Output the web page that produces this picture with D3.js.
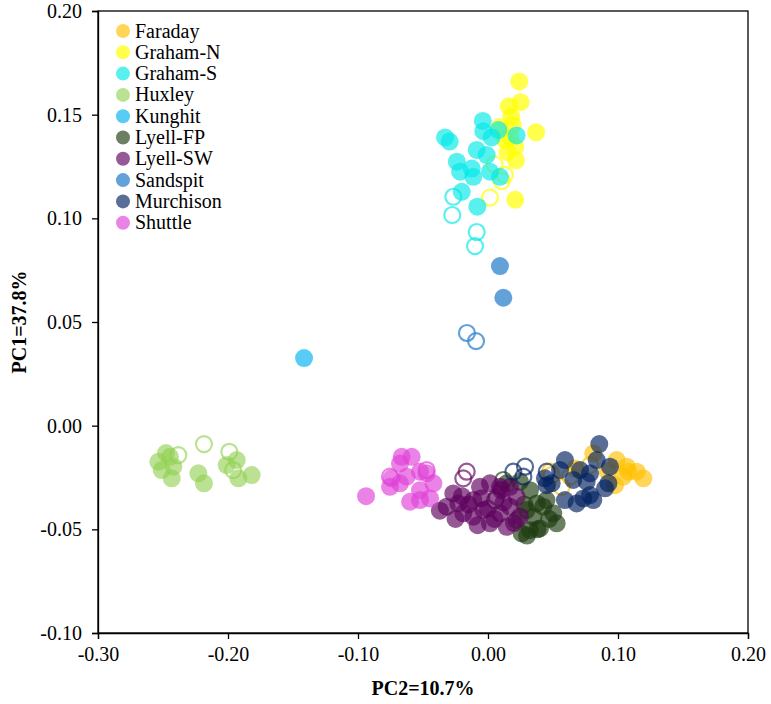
<!DOCTYPE html>
<html><head><meta charset="utf-8">
<script src="https://cdn.jsdelivr.net/npm/d3@7"></script>
<style>body{margin:0;background:#fff;} svg{display:block;}</style>
</head><body>
<svg id="c" width="771" height="704"></svg>
<script>
const seriesNames = ["Faraday","Graham-N","Graham-S","Huxley","Kunghit","Lyell-FP","Lyell-SW","Sandspit","Murchison","Shuttle"];
const seriesColors = ["#FFC000","#FFFF00","#00E8E8","#92D050","#00B0F0","#1C3A0E","#5E005E","#3C8AD0","#002060","#E040D8"];
const seriesAlpha = [0.65,0.7,0.65,0.62,0.65,0.65,0.65,0.8,0.65,0.65];
const xTicks = [-0.30,-0.20,-0.10,0.00,0.10,0.20];
const yTicks = [-0.10,-0.05,0.00,0.05,0.10,0.15,0.20];

// [PC2, PC1] filled points and hollow points per series
const faradayFilled = [[0.099,-0.0166],[0.1067,-0.0198],[0.1144,-0.0222],[0.1195,-0.0254],[0.108,-0.0222],[0.0977,-0.0287],[0.081,-0.0134],[0.1041,-0.0246],[0.0669,-0.0206],[0.092,-0.022]];
const faradayHollow = [[0.049,-0.0238],[0.0631,-0.0246],[0.0567,-0.0295],[0.0785,-0.019],[0.0477,-0.0222]];
const grahamNFilled = [[0.024,0.166],[0.025,0.156],[0.016,0.154],[0.018,0.149],[0.037,0.1415],[0.021,0.1345],[0.0215,0.128],[0.021,0.109],[0.009,0.144],[0.017,0.139],[0.013,0.138],[0.019,0.145],[0.015,0.132]];
const grahamNHollow = [[0.005,0.126],[0.0105,0.118],[0.0015,0.110],[0.013,0.121]];
const grahamSFilled = [[-0.004,0.147],[-0.033,0.139],[-0.0295,0.137],[-0.0036,0.142],[0.0028,0.139],[0.008,0.1426],[0.022,0.140],[-0.0087,0.133],[-0.024,0.1273],[-0.0215,0.1225],[-0.0125,0.124],[-0.0113,0.120],[-0.001,0.1305],[0.0015,0.1225],[0.0092,0.120],[-0.0202,0.1128],[-0.0082,0.1056]];
const grahamSHollow = [[-0.0267,0.1104],[-0.0275,0.1016],[-0.0087,0.0934],[-0.010,0.0866]];
const huxleyFilled = [[-0.2536,-0.0174],[-0.251,-0.0214],[-0.2446,-0.015],[-0.242,-0.0198],[-0.2433,-0.0254],[-0.2477,-0.0132],[-0.2228,-0.023],[-0.2185,-0.0278],[-0.201,-0.019],[-0.1933,-0.0166],[-0.192,-0.0254],[-0.1818,-0.0238]];
const huxleyHollow = [[-0.2382,-0.0142],[-0.2185,-0.0089],[-0.199,-0.0126],[-0.196,-0.0214]];
const kunghitFilled = [[-0.1415,0.0326]];
const kunghitHollow = [];
const lyellFPFilled = [[0.0323,-0.0311],[0.0375,-0.0375],[0.0425,-0.0391],[0.0298,-0.0407],[0.0323,-0.0504],[0.04,-0.0496],[0.0502,-0.0423],[0.0528,-0.0471],[0.0259,-0.052],[0.0221,-0.0455],[0.0144,-0.0278],[0.0246,-0.027],[0.045,-0.0359],[0.035,-0.044],[0.028,-0.038],[0.038,-0.05],[0.047,-0.045],[0.03,-0.053]];
const lyellFPHollow = [[0.0054,-0.0359],[0.0118,-0.0262]];
const lyellSWFilled = [[-0.0267,-0.0327],[-0.0318,-0.0391],[-0.0228,-0.0375],[-0.0113,-0.0359],[-0.0062,-0.0295],[0.0015,-0.0278],[0.0067,-0.0343],[-0.0036,-0.0407],[0.0092,-0.0423],[0.0015,-0.0471],[0.0144,-0.0488],[0.0169,-0.0391],[0.0221,-0.0343],[-0.0113,-0.0439],[-0.019,-0.0423],[0.0246,-0.0439],[0.0092,-0.0295],[0.0169,-0.0295],[-0.037,-0.041],[-0.02,-0.034],[0.0,-0.04],[-0.005,-0.035],[0.005,-0.045],[0.012,-0.037],[-0.008,-0.048],[0.02,-0.047],[-0.015,-0.038],[-0.025,-0.045],[0.01,-0.031]];
const lyellSWHollow = [[-0.0164,-0.0222],[-0.019,-0.0254]];
const sandspitFilled = [[0.0092,0.077],[0.0118,0.0617]];
const sandspitHollow = [[-0.0162,0.0447],[-0.0092,0.0408]];
const murchisonFilled = [[0.0856,-0.0089],[0.0592,-0.0166],[0.0554,-0.0214],[0.0438,-0.0254],[0.0452,-0.0287],[0.0656,-0.0262],[0.0708,-0.0214],[0.0785,-0.023],[0.0759,-0.027],[0.0938,-0.0198],[0.0926,-0.0278],[0.09,-0.0302],[0.0785,-0.0335],[0.0733,-0.0351],[0.081,-0.0359],[0.0682,-0.0375],[0.0592,-0.0359],[0.0836,-0.0166],[0.049,-0.0278]];
const murchisonHollow = [[0.0452,-0.0222],[0.0195,-0.0222],[0.0285,-0.0198],[0.0272,-0.0246]];
const shuttleFilled = [[-0.0938,-0.034],[-0.0664,-0.015],[-0.0587,-0.015],[-0.0677,-0.0182],[-0.0741,-0.0254],[-0.0754,-0.0295],[-0.0677,-0.0278],[-0.0625,-0.0246],[-0.0523,-0.0222],[-0.0472,-0.023],[-0.042,-0.0278],[-0.0523,-0.0311],[-0.06,-0.0367],[-0.0523,-0.0359],[-0.0446,-0.0351]];
const shuttleHollow = [[-0.0754,-0.0246],[-0.0472,-0.0214]];

const filledSets = [faradayFilled,grahamNFilled,grahamSFilled,huxleyFilled,kunghitFilled,lyellFPFilled,lyellSWFilled,sandspitFilled,murchisonFilled,shuttleFilled];
const hollowSets = [faradayHollow,grahamNHollow,grahamSHollow,huxleyHollow,kunghitHollow,lyellFPHollow,lyellSWHollow,sandspitHollow,murchisonHollow,shuttleHollow];

const svg = d3.select("#c");
const L = 98, R = 748, T = 11, B = 633;
const x = d3.scaleLinear().domain([-0.30,0.20]).range([L,R]);
const y = d3.scaleLinear().domain([-0.10,0.20]).range([B,T]);
const fmt = v => d3.format(".2f")(v).replace("\u2212","-");
const font = "'Liberation Serif','Times New Roman',serif";

// frame
svg.append("rect").attr("x",L).attr("y",T).attr("width",R-L).attr("height",B-T)
  .attr("fill","none").attr("stroke","#000").attr("stroke-width",1.3);

const xa = svg.append("g").attr("transform",`translate(0,${B})`)
  .call(d3.axisBottom(x).tickValues(xTicks).tickFormat(fmt).tickSize(6).tickPadding(8));
const ya = svg.append("g").attr("transform",`translate(${L},0)`)
  .call(d3.axisLeft(y).tickValues(yTicks).tickFormat(fmt).tickSize(6).tickPadding(10));
[xa,ya].forEach(a=>{
  a.select(".domain").attr("stroke","#000").attr("stroke-width",1.3);
  a.selectAll(".tick line").attr("stroke","#000").attr("stroke-width",1.3);
  a.selectAll("text").attr("font-family",font).attr("font-size",20).attr("fill","#000");
});

// points
seriesNames.forEach((n,i)=>{
  const g = svg.append("g");
  g.selectAll("circle.f").data(filledSets[i]).join("circle").attr("class","f")
    .attr("cx",d=>x(d[0])).attr("cy",d=>y(d[1])).attr("r",9)
    .attr("fill",seriesColors[i]).attr("fill-opacity",seriesAlpha[i]);
  g.selectAll("circle.h").data(hollowSets[i]).join("circle").attr("class","h")
    .attr("cx",d=>x(d[0])).attr("cy",d=>y(d[1])).attr("r",8)
    .attr("fill","none").attr("stroke",seriesColors[i]).attr("stroke-opacity",seriesAlpha[i]).attr("stroke-width",2.2);
});

// legend
const lg = svg.append("g").attr("transform","translate(123,31)");
seriesNames.forEach((n,i)=>{
  const row = lg.append("g").attr("transform",`translate(0,${i*21.3})`);
  row.append("circle").attr("r",7).attr("fill",seriesColors[i]).attr("fill-opacity",seriesAlpha[i]);
  row.append("text").attr("x",12).attr("y",6.5).text(n)
    .attr("font-family",font).attr("font-size",20).attr("fill","#000");
});

// axis titles
svg.append("text").attr("x",(L+R)/2).attr("y",695).attr("text-anchor","middle")
  .attr("font-family",font).attr("font-weight","bold").attr("font-size",20).text("PC2=10.7%");
svg.append("text").attr("transform",`translate(26,${(T+B)/2}) rotate(-90)`).attr("text-anchor","middle")
  .attr("font-family",font).attr("font-weight","bold").attr("font-size",20).text("PC1=37.8%");
</script>
</body></html>
